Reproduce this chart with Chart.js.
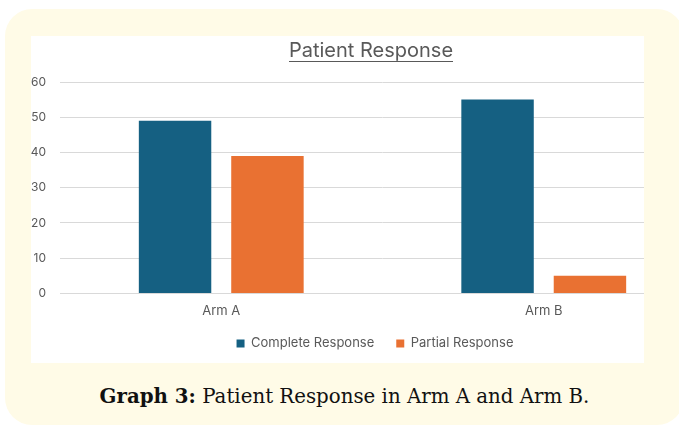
<!DOCTYPE html>
<html>
<head>
<meta charset="utf-8">
<script src="https://cdn.jsdelivr.net/npm/chart.js@4"></script>
<style>
  html, body { margin:0; padding:0; background:#ffffff; width:679px; height:426px; overflow:hidden; }
  #box { position:absolute; left:5px; top:9px; width:679px; height:416px; background:#fffbe7; border-radius:27px; }
  #clip { position:absolute; left:31px; top:36px; width:613px; height:327px; overflow:hidden; background:#ffffff; }
  #caption { position:absolute; left:0; width:689px; top:384px; text-align:center; font-family:"DejaVu Serif", serif; font-size:19.8px; color:#111; }
  #caption b { font-weight:bold; }
</style>
</head>
<body>
<div id="box"></div>
<div id="clip"><canvas id="c" width="682" height="327"></canvas></div>
<div id="caption"><b>Graph 3:</b> Patient Response in Arm A and Arm B.</div>
<script>
const categories = ["Arm A", "Arm B"];
const completeResponse = [49, 55];
const partialResponse = [39, 5];
const yTicks = [0, 10, 20, 30, 40, 50, 60];

const FONT = "Inter";
const underlineTitle = {
  id: 'underlineTitle',
  afterLayout(chart) {
    if (chart.legend) { chart.legend.left += 7; chart.legend.right += 7; }
    if (chart.titleBlock) { chart.titleBlock.left += 3; chart.titleBlock.right += 3; }
  },
  afterDraw(chart) {
    const t = chart.titleBlock;
    if (!t || !t.options.display) return;
    const ctx = chart.ctx;
    const f = t.options.font;
    ctx.save();
    ctx.font = `${f.weight || 'normal'} ${f.size}px ${f.family}`;
    const text = t.options.text;
    const w = ctx.measureText(text).width;
    const cx2 = (t.left + t.right) / 2;
    const y = t.top + t.options.padding.top + f.size * 1.2 / 2 + f.size * 0.5;
    ctx.strokeStyle = t.options.color;
    ctx.lineWidth = 1;
    ctx.beginPath();
    ctx.moveTo(Math.round(cx2 - w / 2), Math.round(y) + 0.5);
    ctx.lineTo(Math.round(cx2 + w / 2), Math.round(y) + 0.5);
    ctx.stroke();
    ctx.restore();
  }
};

new Chart(document.getElementById('c'), {
  type: 'bar',
  data: {
    labels: categories,
    datasets: [
      { label: 'Complete Response', data: completeResponse, backgroundColor: '#156082', borderWidth: 0 },
      { label: 'Partial Response', data: partialResponse, backgroundColor: '#E97132', borderWidth: 0 }
    ]
  },
  options: {
    responsive: false,
    animation: false,
    devicePixelRatio: 1,
    categoryPercentage: 0.573,
    barPercentage: 0.784,
    layout: { padding: { left: 0, right: 8, top: 0, bottom: 3 } },
    plugins: {
      title: {
        display: true,
        text: 'Patient Response',
        color: '#595959',
        font: { family: FONT, size: 20, weight: 'normal' },
        padding: { top: 3, bottom: 19 }
      },
      legend: {
        position: 'bottom',
        labels: {
          boxWidth: 8, boxHeight: 8, color: '#595959',
          font: { family: FONT, size: 13 },
          padding: 22
        }
      },
      tooltip: { enabled: false }
    },
    scales: {
      x: {
        afterFit(scale) { scale.height = scale.height - 14; },
        grid: { display: false, drawTicks: false },
        border: { display: true, color: '#d9d9d9' },
        ticks: { color: '#595959', font: { family: FONT, size: 13 }, padding: 10 }
      },
      y: {
        min: 0, max: 60,
        afterFit(scale) { scale.width = 29; },
        afterBuildTicks(scale) { scale.ticks = yTicks.map(v => ({ value: v })); },
        grid: { color: '#d9d9d9', drawTicks: false },
        border: { display: false },
        ticks: { color: '#595959', font: { family: FONT, size: 12 }, padding: 14 }
      }
    }
  },
  plugins: [underlineTitle]
});
</script>
</body>
</html>
